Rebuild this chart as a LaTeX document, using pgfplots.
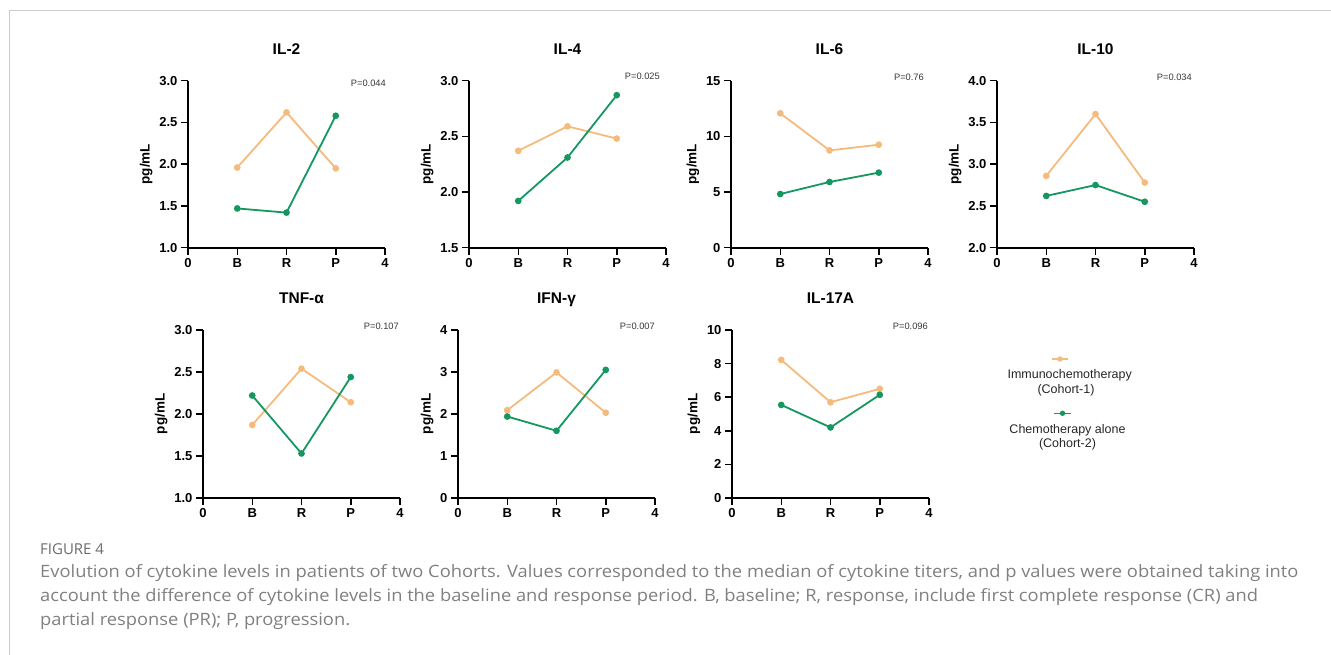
\documentclass[border=0pt]{standalone}
\usepackage{pgfplots}
\pgfplotsset{compat=1.18}
\usepackage{fontspec}
\setmainfont{Liberation Sans}
\newfontfamily\capfont{Open Sans}
\definecolor{cOr}{RGB}{245,187,125}
\definecolor{cGr}{RGB}{21,151,96}
\definecolor{capgray}{RGB}{128,128,128}
\definecolor{pgray}{RGB}{55,55,55}

\tikzset{pval/.style={anchor=east, inner sep=0pt, text=pgray, font=\fontsize{9.3}{9.3}\selectfont}}
\pgfplotsset{
  panel/.style={
    scale only axis, width=197pt, height=167pt, anchor=south west,
    xmin=0, xmax=4, xtick={0,1,2,3,4}, xticklabels={0,B,R,P,4},
    axis x line=bottom, axis y line=left,
    axis line style={-, line width=1.9pt, black},
    tick style={line width=1.5pt, black}, tick align=outside, major tick length=7pt,
    /pgf/number format/assume math mode=true,
    ticklabel style={font=\bfseries\fontsize{13}{13}\selectfont},
    ylabel={pg/mL}, ylabel style={font=\bfseries\fontsize{13.5}{13.5}\selectfont},
    title style={at={(0.5,1)}, anchor=base, yshift=20.5pt, font=\bfseries\fontsize{15.5}{15.5}\selectfont},
    clip=false,
  },
  yfix/.style={yticklabel style={/pgf/number format/.cd, fixed, fixed zerofill, precision=1}},
  ser1/.style={color=cOr, line width=1.8pt, mark=*, mark size=2.4pt, mark options={solid}},
  ser2/.style={color=cGr, line width=1.8pt, mark=*, mark size=2.4pt, mark options={solid}},
}

\begin{document}
\begin{tikzpicture}
\useasboundingbox (0,0) rectangle (1331pt,655pt);

% frame
\draw[color=black!20, line width=1pt] (9.3pt,0pt) -- (9.3pt,644pt) -- (1331pt,644pt);

% ---------- Row 1 ----------
\begin{axis}[panel, at={(188pt,407.3pt)}, title={IL-2}, ymin=1, ymax=3, ytick={1,1.5,2,2.5,3}, yfix]
\addplot[ser1] coordinates {(1,1.96) (2,2.62) (3,1.95)};
\addplot[ser2] coordinates {(1,1.47) (2,1.42) (3,2.58)};
\node[pval, xshift=1pt, yshift=-2.3pt] at (rel axis cs:1,1) {P=0.044};
\end{axis}

\begin{axis}[panel, at={(469pt,407.3pt)}, title={IL-4}, ymin=1.5, ymax=3, ytick={1.5,2,2.5,3}, yfix]
\addplot[ser1] coordinates {(1,2.37) (2,2.59) (3,2.48)};
\addplot[ser2] coordinates {(1,1.92) (2,2.31) (3,2.87)};
\node[pval, xshift=-6pt, yshift=4.7pt] at (rel axis cs:1,1) {P=0.025};
\end{axis}

\begin{axis}[panel, at={(731pt,407.3pt)}, title={IL-6}, ymin=0, ymax=15, ytick={0,5,10,15}]
\addplot[ser1] coordinates {(1,12.07) (2,8.74) (3,9.25)};
\addplot[ser2] coordinates {(1,4.82) (2,5.90) (3,6.74)};
\node[pval, xshift=-4pt, yshift=3.7pt] at (rel axis cs:1,1) {P=0.76};
\end{axis}

\begin{axis}[panel, at={(997pt,407.3pt)}, title={IL-10}, ymin=2, ymax=4, ytick={2,2.5,3,3.5,4}, yfix]
\addplot[ser1] coordinates {(1,2.86) (2,3.60) (3,2.78)};
\addplot[ser2] coordinates {(1,2.62) (2,2.75) (3,2.55)};
\node[pval, xshift=-2pt, yshift=3.7pt] at (rel axis cs:1,1) {P=0.034};
\end{axis}

% ---------- Row 2 ----------
\begin{axis}[panel, height=168pt, at={(203pt,157pt)}, title={TNF-α}, ymin=1, ymax=3, ytick={1,1.5,2,2.5,3}, yfix]
\addplot[ser1] coordinates {(1,1.87) (2,2.54) (3,2.14)};
\addplot[ser2] coordinates {(1,2.22) (2,1.53) (3,2.44)};
\node[pval, xshift=-1pt, yshift=4pt] at (rel axis cs:1,1) {P=0.107};
\end{axis}

\begin{axis}[panel, height=168pt, at={(458pt,157pt)}, title={IFN-γ}, ymin=0, ymax=4, ytick={0,1,2,3,4}]
\addplot[ser1] coordinates {(1,2.09) (2,2.99) (3,2.03)};
\addplot[ser2] coordinates {(1,1.94) (2,1.60) (3,3.05)};
\node[pval, xshift=0pt, yshift=4pt] at (rel axis cs:1,1) {P=0.007};
\end{axis}

\begin{axis}[panel, height=168pt, at={(732pt,157pt)}, title={IL-17A}, ymin=0, ymax=10, ytick={0,2,4,6,8,10}]
\addplot[ser1] coordinates {(1,8.22) (2,5.70) (3,6.50)};
\addplot[ser2] coordinates {(1,5.54) (2,4.20) (3,6.14)};
\node[pval, xshift=-1pt, yshift=4pt] at (rel axis cs:1,1) {P=0.096};
\end{axis}

% ---------- Legend (page-sized hidden axis) ----------
\begin{axis}[scale only axis, width=1331pt, height=655pt, anchor=south west, at={(0pt,0pt)},
  xmin=0, xmax=1331, ymin=0, ymax=655, hide axis, clip=false]
\addplot[color=cOr, line width=1.3pt, mark=*, mark size=2pt, mark indices={2}] coordinates {(1052,296) (1060,296) (1068,296)};
\addplot[color=cGr, line width=1.3pt, mark=*, mark size=2pt, mark indices={2}] coordinates {(1054,241.7) (1062.5,241.7) (1071,241.7)};
\end{axis}

\begin{scope}[every node/.style={anchor=base, inner sep=0pt, text=black!85, font=\fontsize{12.5}{12.5}\selectfont}]
\node at (1069.7pt,276.7pt) {Immunochemotherapy};
\node at (1066pt,261.7pt) {(Cohort-1)};
\node at (1067.5pt,221.7pt) {Chemotherapy alone};
\node at (1067.5pt,207pt) {(Cohort-2)};
\end{scope}

% ---------- Caption ----------
\begin{scope}[every node/.style={anchor=base west, inner sep=0pt, text=capgray}]
\node[font=\capfont\fontsize{15}{15}\selectfont, text=black!58] at (40pt,100pt) {FIGURE 4};
\node[font=\capfont\fontsize{17}{17}\selectfont] at (40pt,77pt) {\scalebox{1.078}[1]{Evolution of cytokine levels in patients of two Cohorts. Values corresponded to the median of cytokine titers, and p values were obtained taking into}};
\node[font=\capfont\fontsize{17}{17}\selectfont] at (40pt,53pt) {\scalebox{1.078}[1]{account the difference of cytokine levels in the baseline and response period. B, baseline; R, response, include first complete response (CR) and}};
\node[font=\capfont\fontsize{17}{17}\selectfont] at (40pt,29pt) {\scalebox{1.078}[1]{partial response (PR); P, progression.}};
\end{scope}
\end{tikzpicture}
\end{document}
